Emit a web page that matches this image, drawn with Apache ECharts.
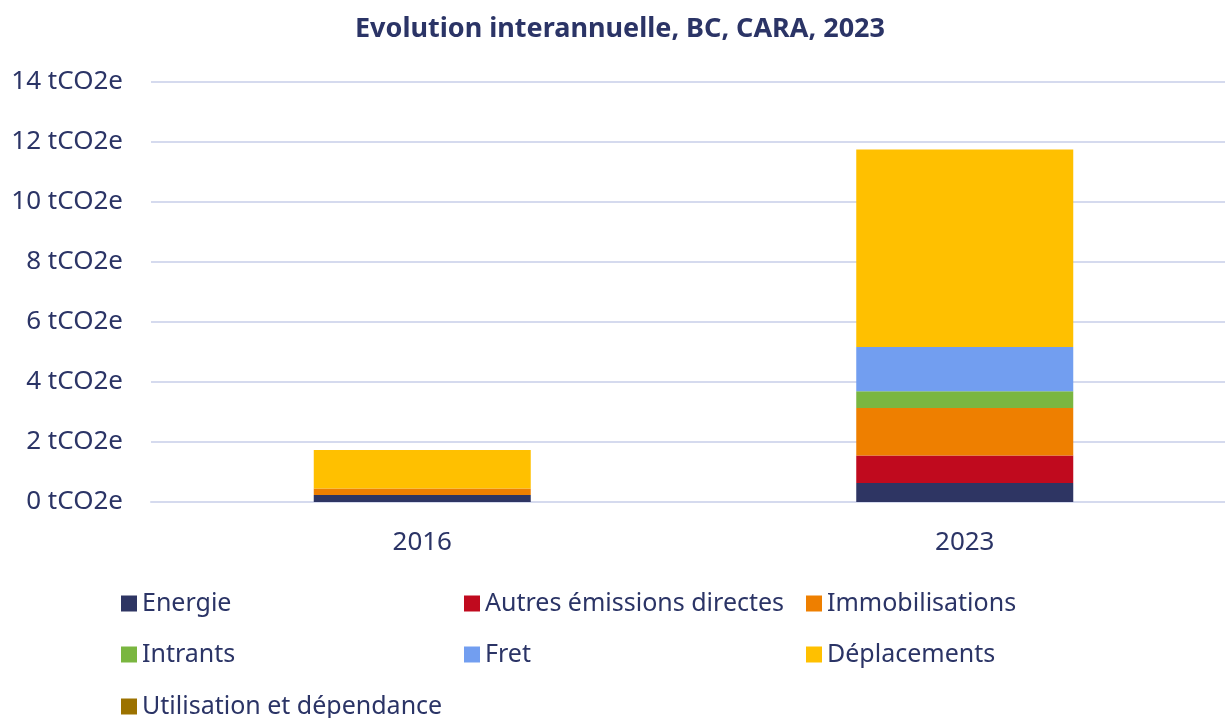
<!DOCTYPE html>
<html>
<head>
<meta charset="utf-8">
<title>Evolution interannuelle</title>
<script src="https://cdn.jsdelivr.net/npm/echarts@6/dist/echarts.min.js"></script>
<style>
  html, body { margin: 0; padding: 0; background: #fff; overflow: hidden; }
  #chart { width: 1240px; height: 718px; }
</style>
</head>
<body>
<div id="chart"></div>
<script type="text/javascript">
    // donnees
    var years = ['2016', '2023'];
    var names = ['Energie', 'Autres émissions directes', 'Immobilisations', 'Intrants', 'Fret', 'Déplacements', 'Utilisation et dépendance'];
    var energie = [0.23, 0.63];
    var autres = [0, 0.92];
    var immobilisations = [0.22, 1.58];
    var intrants = [0, 0.56];
    var fret = [0, 1.48];
    var deplacements = [1.28, 6.58];
    var utilisation = [0, 0];
    var yTicks = [0, 2, 4, 6, 8, 10, 12, 14];

    var colors = ['#2E3563', '#C00A1E', '#EE7F00', '#7AB640', '#729EF0', '#FFC000', '#9C7200'];
    var values = [energie, autres, immobilisations, intrants, fret, deplacements, utilisation];
    var txt = '#2B3466';
    var font = 'Noto Sans';

    var series = [];
    for (var i = 0; i < names.length; i++) {
        series.push({
            name: names[i],
            type: 'bar',
            stack: 'total',
            barWidth: '40%',
            itemStyle: { color: colors[i] },
            data: values[i]
        });
    }

    // legende sur 3 colonnes
    var legPos = [[116, 586], [459, 586], [801, 586], [116, 637], [459, 637], [801, 637], [116, 689]];
    var legends = [];
    for (var j = 0; j < names.length; j++) {
        legends.push({
            data: [names[j]],
            left: legPos[j][0],
            top: legPos[j][1],
            icon: 'rect',
            itemWidth: 16,
            itemHeight: 16,
            itemGap: 0,
            itemTextGap: 9,
            selectedMode: false,
            textStyle: { color: txt, fontSize: 25, fontFamily: font }
        });
    }

    var chart = echarts.init(document.getElementById('chart'));
    chart.setOption({
        animation: false,
        color: colors,
        title: {
            text: 'Evolution interannuelle, BC, CARA, 2023',
            left: 'center',
            top: 11,
            textStyle: { color: txt, fontSize: 27, fontWeight: 'bold', fontFamily: font }
        },
        legend: legends,
        grid: { left: 151, width: 1085, top: 82, bottom: 216, containLabel: false },
        xAxis: {
            type: 'category',
            data: years,
            axisLine: { lineStyle: { color: '#D5DAEE', width: 2 } },
            axisTick: { show: false },
            axisLabel: { color: txt, fontSize: 26, fontFamily: font, margin: 28 }
        },
        yAxis: {
            type: 'value',
            min: yTicks[0],
            max: yTicks[yTicks.length - 1],
            interval: 2,
            axisLine: { show: false },
            axisTick: { show: false },
            splitLine: { lineStyle: { color: '#D5DAEE', width: 2 } },
            axisLabel: {
                color: txt, fontSize: 26, fontFamily: font, margin: 28,
                formatter: function (v) { return v + ' tCO2e'; }
            }
        },
        series: series
    });
</script>
</body>
</html>
